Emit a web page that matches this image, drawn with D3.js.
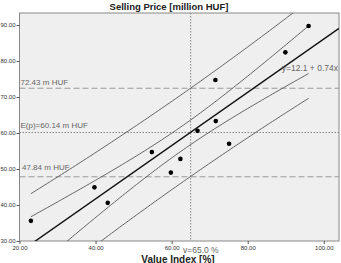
<!DOCTYPE html>
<html><head><meta charset="utf-8">
<script src="https://cdn.jsdelivr.net/npm/d3@7"></script>
<style>body{margin:0;background:#fff}svg{display:block;font-family:Arial,"Liberation Sans",sans-serif}</style>
</head><body><svg id="c" width="341" height="263"></svg>
<script>
// data
const valueIndex   = [23.0, 39.7, 43.2, 54.8, 62.3, 59.8, 66.8, 71.6, 75.1, 71.5, 89.9, 96.0];
const sellingPrice = [35.6, 44.9, 40.6, 54.7, 52.8, 49.0, 60.6, 63.3, 57.0, 74.7, 82.4, 89.7];
const xTicks = [20, 40, 60, 80, 100];
const yTicks = [30, 40, 50, 60, 70, 80, 90];
const fitIntercept = 12.1, fitSlope = 0.74;
const vLine = 65.0;
const expected = 60.14;
const predBounds = [72.43, 47.84];
const tCrit = 1.812; // 90% two-sided, df = n-2

const W = 341, H = 263;
const m = {l: 19.5, r: 339, t: 13, b: 241};
const x = d3.scaleLinear().domain([20, 104]).range([m.l, m.r]);
const y = d3.scaleLinear().domain([30, 93.33]).range([m.b, m.t]);
const svg = d3.select("#c");

svg.append("text").attr("x", 169).attr("y", 10).attr("text-anchor", "middle")
  .attr("font-size", 9.5).attr("font-weight", "bold").attr("fill", "#222").text("Selling Price [million HUF]");

svg.append("rect").attr("x", m.l).attr("y", m.t).attr("width", m.r - m.l).attr("height", m.b - m.t)
  .attr("fill", "#efefef").attr("stroke", "#888").attr("stroke-width", 1);

svg.append("defs").append("clipPath").attr("id", "clip").append("rect")
  .attr("x", m.l).attr("y", m.t).attr("width", m.r - m.l).attr("height", m.b - m.t);

// axes
const xa = svg.append("g").attr("transform", `translate(0,${m.b})`)
  .call(d3.axisBottom(x).tickValues(xTicks).tickFormat(d3.format(".2f")).tickSize(3).tickPadding(2));
const ya = svg.append("g").attr("transform", `translate(${m.l},0)`)
  .call(d3.axisLeft(y).tickValues(yTicks).tickFormat(d3.format(".2f")).tickSize(3).tickPadding(1));
[xa, ya].forEach(a => {
  a.select(".domain").remove();
  a.selectAll("line").attr("stroke", "#555");
  a.selectAll("text").attr("font-size", 6).attr("fill", "#333").attr("font-family", "Arial, 'Liberation Sans', sans-serif");
});

svg.append("text").attr("x", 178).attr("y", 263).attr("text-anchor", "middle")
  .attr("font-size", 10).attr("font-weight", "bold").attr("fill", "#222").text("Value Index [%]");

const g = svg.append("g").attr("clip-path", "url(#clip)");

// reference lines
g.append("line").attr("x1", x(vLine)).attr("x2", x(vLine)).attr("y1", m.t).attr("y2", m.b)
  .attr("stroke", "#888").attr("stroke-dasharray", "1.5,1.5");
g.append("line").attr("x1", m.l).attr("x2", m.r).attr("y1", y(expected)).attr("y2", y(expected))
  .attr("stroke", "#888").attr("stroke-dasharray", "1.5,1.5");
predBounds.forEach(v => g.append("line").attr("x1", m.l).attr("x2", m.r).attr("y1", y(v)).attr("y2", y(v))
  .attr("stroke", "#999").attr("stroke-dasharray", "6,3"));

// regression statistics
const n = valueIndex.length;
const xbar = d3.mean(valueIndex);
const sxx = d3.sum(valueIndex, v => (v - xbar) ** 2);
const sse = d3.sum(valueIndex, (v, i) => (sellingPrice[i] - (fitIntercept + fitSlope * v)) ** 2);
const s = Math.sqrt(sse / (n - 2));
const xs = d3.range(0, 101).map(i => d3.min(valueIndex) + i * (d3.max(valueIndex) - d3.min(valueIndex)) / 100);
const fit = v => fitIntercept + fitSlope * v;
const ci = v => tCrit * s * Math.sqrt(1 / n + (v - xbar) ** 2 / sxx);
const pi = v => tCrit * s * Math.sqrt(1 + 1 / n + (v - xbar) ** 2 / sxx);
const line = d3.line().x(d => x(d[0])).y(d => y(d[1]));
[v => fit(v) + pi(v), v => fit(v) - pi(v), v => fit(v) + ci(v), v => fit(v) - ci(v)].forEach(f => {
  g.append("path").attr("d", line(xs.map(v => [v, f(v)]))).attr("fill", "none").attr("stroke", "#555").attr("stroke-width", 0.9);
});
g.append("path").attr("d", line([[20, fit(20)], [104, fit(104)]])).attr("fill", "none")
  .attr("stroke", "#111").attr("stroke-width", 1.4);

// points
g.selectAll("circle").data(valueIndex).join("circle")
  .attr("cx", d => x(d)).attr("cy", (d, i) => y(sellingPrice[i])).attr("r", 2.3).attr("fill", "#000");

// labels
const lab = (tx, ty, t, fs, anchor) => svg.append("text").attr("x", tx).attr("y", ty).attr("font-size", fs)
  .attr("fill", "#666").attr("text-anchor", anchor || "start").text(t);
lab(20.5, 85, `${predBounds[0].toFixed(2)} m HUF`, 8);
lab(20.5, 128, `E(p)=${expected.toFixed(2)} m HUF`, 8);
lab(22, 170, `${predBounds[1].toFixed(2)} m HUF`, 8);
lab(183, 253, `v=${vLine.toFixed(1)} %`, 8.5);
lab(338, 71, `y=${fitIntercept} + ${fitSlope}x`, 8.5, "end");
</script></body></html>
